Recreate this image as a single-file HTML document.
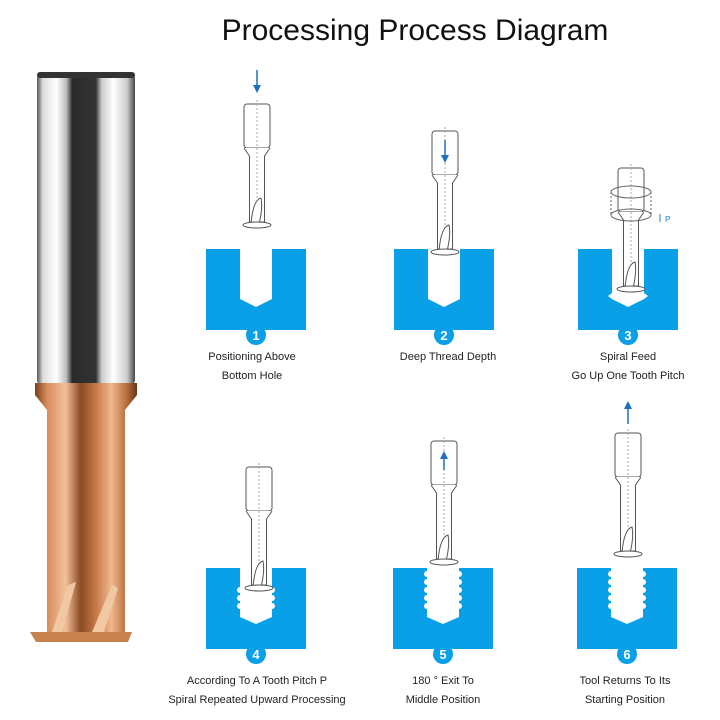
<!DOCTYPE html>
<html><head><meta charset="utf-8"><style>
html,body{margin:0;padding:0;background:#fff;}
body{width:720px;height:720px;overflow:hidden;position:relative;font-family:"Liberation Sans",sans-serif;}
.t{position:absolute;font-size:11px;color:#222;text-align:center;width:200px;line-height:19px;}
</style></head><body>
<div style="position:absolute;left:0;top:14px;width:830px;text-align:center;font-size:30px;color:#111;">Processing Process Diagram</div>
<svg width="720" height="720" style="position:absolute;left:0;top:0">
<defs>
<linearGradient id="sil" x1="0" x2="1">
<stop offset="0" stop-color="#555"/><stop offset="0.06" stop-color="#ddd"/><stop offset="0.2" stop-color="#fff"/><stop offset="0.3" stop-color="#bbb"/><stop offset="0.36" stop-color="#2a2a2a"/><stop offset="0.6" stop-color="#333"/><stop offset="0.66" stop-color="#ccc"/><stop offset="0.78" stop-color="#fff"/><stop offset="0.92" stop-color="#ccc"/><stop offset="1" stop-color="#444"/>
</linearGradient>
<linearGradient id="cop" x1="0" x2="1">
<stop offset="0" stop-color="#7a3f1c"/><stop offset="0.12" stop-color="#d88e5c"/><stop offset="0.3" stop-color="#f2c09a"/><stop offset="0.45" stop-color="#8a4a22"/><stop offset="0.6" stop-color="#c77a48"/><stop offset="0.75" stop-color="#f0b88e"/><stop offset="0.9" stop-color="#b86c3c"/><stop offset="1" stop-color="#6a3414"/>
</linearGradient>
<g id="tool" fill="#fff" stroke="#555" stroke-width="1">
<rect x="-13" y="0" width="26" height="44" rx="3"/>
<path d="M-13 44 L-7.5 52 L-7.5 118 L7.5 118 L7.5 52 L13 44"/>
<line x1="0" y1="-4" x2="0" y2="122" stroke="#aaa" stroke-dasharray="2 2"/>
<path d="M-6 120 Q-4 96 4 94 Q6 104 2 120 Z"/>
<ellipse cx="0" cy="121" rx="14" ry="3"/>
</g>
<g id="blk">
<rect x="0" y="0" width="100" height="81" fill="#0aa0e8"/>
<circle cx="50" cy="86" r="10" fill="#0aa0e8"/>
</g>
</defs>
<!-- end mill -->
<rect x="37" y="73" width="98" height="312" rx="5" fill="url(#sil)"/>
<rect x="37" y="72" width="98" height="6" rx="3" fill="#333"/>
<path d="M35 383 L137 383 L137 395 L125 410 L125 632 L47 632 L47 410 L35 395 Z" fill="url(#cop)"/>
<path d="M30 632 L132 632 L128 642 L36 642 Z" fill="#c8824e"/>
<path d="M52 632 L68 585 L76 582 L62 632 Z M92 632 L112 585 L118 588 L104 632 Z" fill="#f0c8a4"/>
<!-- row1 blocks -->
<use href="#blk" x="206" y="249"/><use href="#blk" x="394" y="249"/><use href="#blk" x="578" y="249"/>
<path d="M240 249 L272 249 L272 299 L256 307 L240 299 Z" fill="#fff"/>
<path d="M428 249 L460 249 L460 299 L444 307 L428 299 Z" fill="#fff"/>
<path d="M612 249 L644 249 L644 293 L648 296 L644 299 L628 307 L612 299 L608 296 L612 293 Z" fill="#fff"/>
<!-- row2 blocks -->
<use href="#blk" x="206" y="568"/><use href="#blk" x="393" y="568"/><use href="#blk" x="577" y="568"/>
<path d="M240 568 L272 568 L272 617 L256 624 L240 617 Z" fill="#fff"/>
<g fill="#fff"><circle cx="240" cy="590" r="3"/><circle cx="272" cy="590" r="3"/><circle cx="240" cy="598" r="3"/><circle cx="272" cy="598" r="3"/><circle cx="240" cy="606" r="3"/><circle cx="272" cy="606" r="3"/></g>
<path d="M427 568 L459 568 L459 617 L443 624 L427 617 Z" fill="#fff"/>
<g fill="#fff"><circle cx="427" cy="574" r="3"/><circle cx="459" cy="574" r="3"/><circle cx="427" cy="582" r="3"/><circle cx="459" cy="582" r="3"/><circle cx="427" cy="590" r="3"/><circle cx="459" cy="590" r="3"/><circle cx="427" cy="598" r="3"/><circle cx="459" cy="598" r="3"/><circle cx="427" cy="606" r="3"/><circle cx="459" cy="606" r="3"/></g>
<path d="M611 568 L643 568 L643 617 L627 624 L611 617 Z" fill="#fff"/>
<g fill="#fff"><circle cx="611" cy="574" r="3"/><circle cx="643" cy="574" r="3"/><circle cx="611" cy="582" r="3"/><circle cx="643" cy="582" r="3"/><circle cx="611" cy="590" r="3"/><circle cx="643" cy="590" r="3"/><circle cx="611" cy="598" r="3"/><circle cx="643" cy="598" r="3"/><circle cx="611" cy="606" r="3"/><circle cx="643" cy="606" r="3"/></g>
<!-- numbers -->
<g fill="#fff" font-size="13" font-weight="bold" text-anchor="middle" font-family="Liberation Sans">
<text x="256" y="340">1</text><text x="444" y="340">2</text><text x="628" y="340">3</text>
<text x="256" y="659">4</text><text x="443" y="659">5</text><text x="627" y="659">6</text>
</g>
<!-- tools -->
<use href="#tool" x="257" y="104"/><use href="#tool" x="445" y="131"/><use href="#tool" x="631" y="168"/>
<use href="#tool" x="259" y="467"/><use href="#tool" x="444" y="441"/><use href="#tool" x="628" y="433"/>
<!-- spiral for 3 -->
<g fill="none" stroke="#666" stroke-width="1">
<ellipse cx="631" cy="192" rx="20" ry="6"/><ellipse cx="631" cy="215" rx="20" ry="6"/>
<line x1="611" y1="192" x2="611" y2="215" stroke-dasharray="2 2"/><line x1="651" y1="192" x2="651" y2="215" stroke-dasharray="2 2"/>
</g>
<text x="665" y="222" font-size="8" fill="#2a7fc8" font-family="Liberation Sans">P</text>
<line x1="660" y1="214" x2="660" y2="222" stroke="#2a7fc8"/>
<!-- arrows -->
<g stroke="#1e6fc0" stroke-width="1.5" fill="#1e6fc0">
<line x1="257" y1="70" x2="257" y2="86"/><path d="M253 85 L261 85 L257 93 Z" stroke="none"/>
<line x1="445" y1="140" x2="445" y2="156"/><path d="M441 155 L449 155 L445 163 Z" stroke="none"/>
<line x1="444" y1="470" x2="444" y2="458"/><path d="M440 459 L448 459 L444 451 Z" stroke="none"/>
<line x1="628" y1="424" x2="628" y2="408"/><path d="M624 409 L632 409 L628 401 Z" stroke="none"/>
</g>
</svg>
<div class="t" style="left:152px;top:348px">Positioning Above<br>Bottom Hole</div>
<div class="t" style="left:348px;top:348px">Deep Thread Depth</div>
<div class="t" style="left:528px;top:348px">Spiral Feed<br>Go Up One Tooth Pitch</div>
<div class="t" style="left:122px;top:672px;width:270px">According To A Tooth Pitch P<br>Spiral Repeated Upward Processing</div>
<div class="t" style="left:343px;top:672px">180 ° Exit To<br>Middle Position</div>
<div class="t" style="left:525px;top:672px">Tool Returns To Its<br>Starting Position</div>
</body></html>
